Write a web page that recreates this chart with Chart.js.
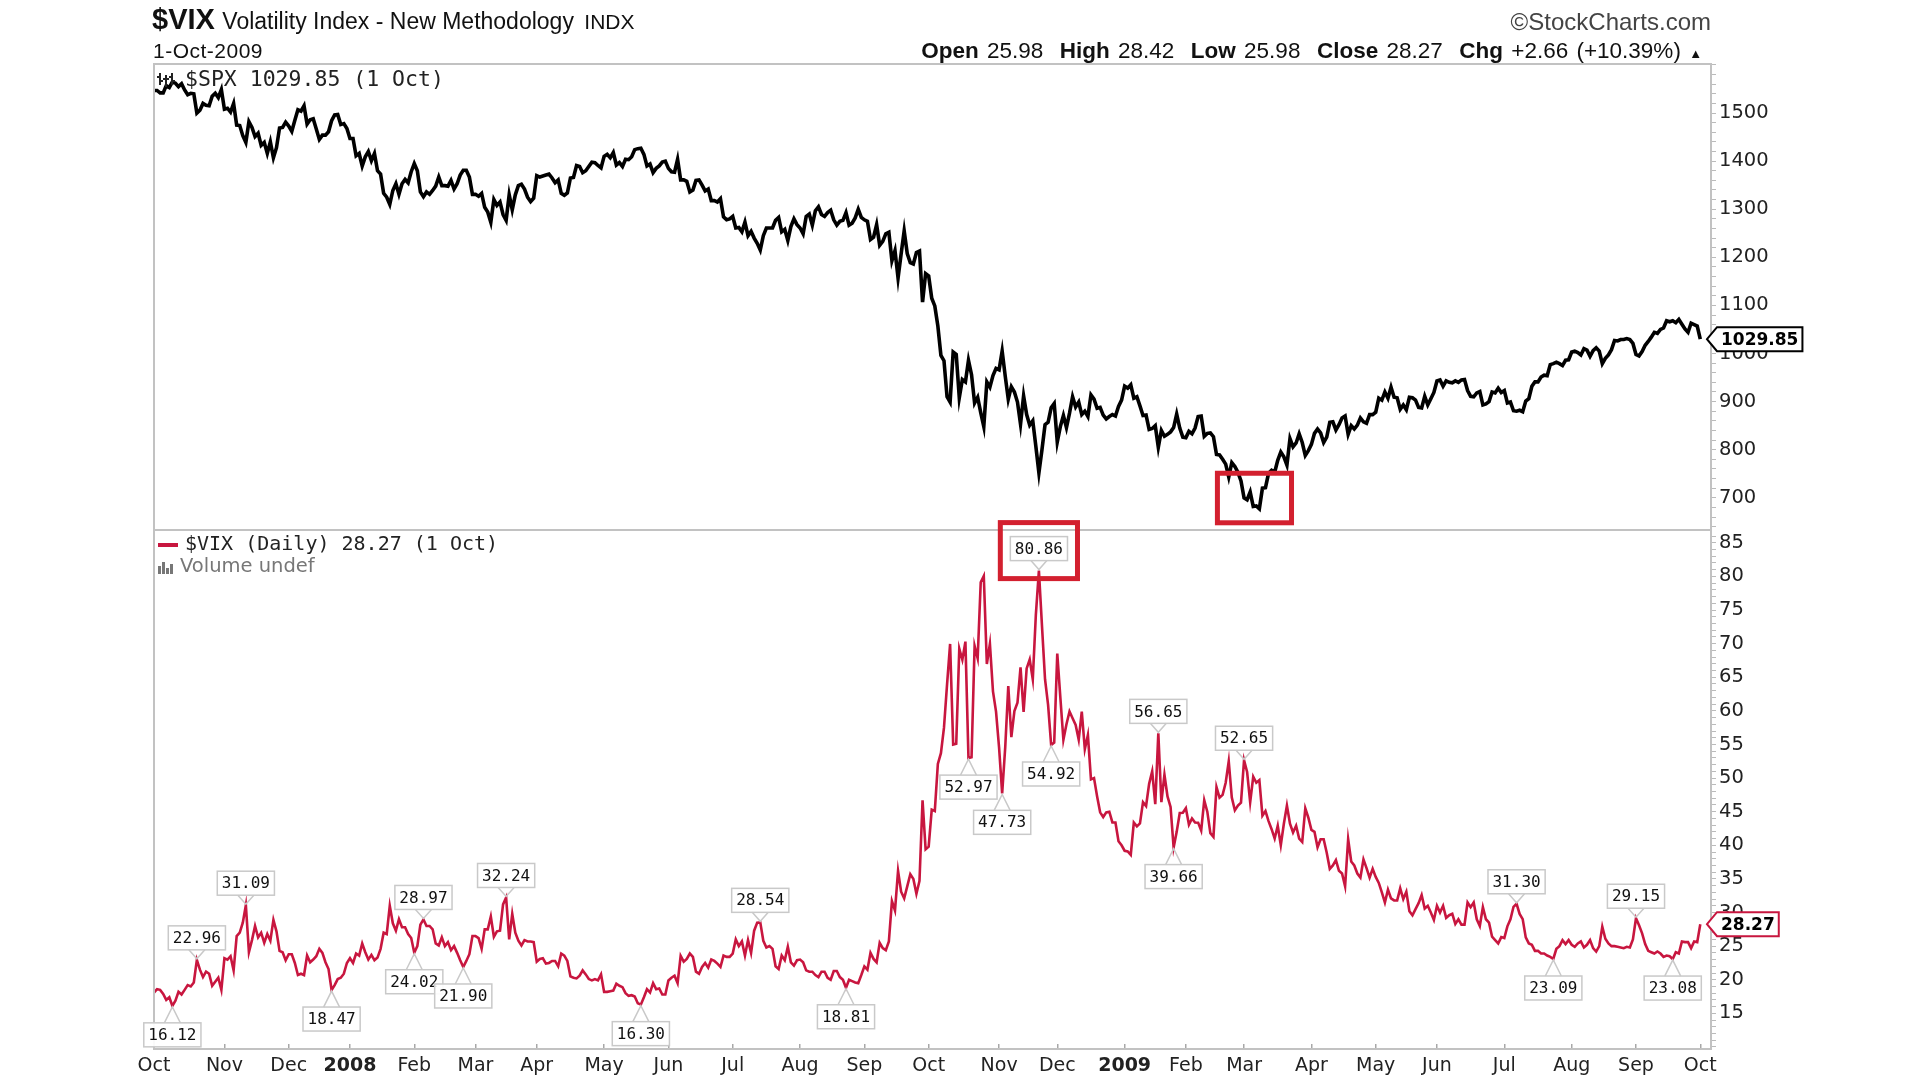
<!DOCTYPE html>
<html>
<head>
<meta charset="utf-8">
<script src="https://cdn.jsdelivr.net/npm/chart.js@4.4.1/dist/chart.umd.min.js"></script>
<style>
  body { margin: 0; background: #fff; }
  #wrap { position: relative; width: 1920px; height: 1080px; overflow: hidden; }
  #chart { position: absolute; left: 0; top: 0; }
  .hd { position: absolute; white-space: nowrap; color: #111; font-family: "Liberation Sans", Arial, sans-serif; }
  .hd b { font-weight: bold; }
</style>
</head>
<body>
<div id="wrap">
  <canvas id="chart" width="1920" height="1080"></canvas>
  <div class="hd" style="left:152px; top:3px; line-height:36px;">
    <span style="font: bold 29px 'Liberation Sans Narrow', 'Liberation Sans', sans-serif;">$VIX</span>
    <span style="font-size:23px; margin-left:3px;">Volatility Index - New Methodology</span>
    <span style="font-size:21px; margin-left:6px;">INDX</span>
  </div>
  <div class="hd" style="left:153px; top:38px; font-size:21px; line-height:26px; letter-spacing:0.5px;">1-Oct-2009</div>
  <div class="hd" style="right:209px; top:8px; font-size:24px; line-height:28px; color:#444;">&copy;StockCharts.com</div>
  <div class="hd" id="quote" style="right:218px; top:37px; font-size:22.5px; line-height:27px; word-spacing:2px;"></div>
</div>

<script>
// trading days since 1-Oct-2007 where each month starts, with the axis labels
const monthDays = [0, 23, 44, 64, 85, 105, 125, 147, 168, 189, 211, 232, 253,
  276, 295, 317, 337, 356, 378, 399, 419, 441, 463, 484, 505];
const monthLabels = ["Oct", "Nov", "Dec", "2008", "Feb", "Mar", "Apr", "May", "Jun",
  "Jul", "Aug", "Sep", "Oct", "Nov", "Dec", "2009", "Feb", "Mar", "Apr", "May",
  "Jun", "Jul", "Aug", "Sep", "Oct"];

// $SPX daily close, one row per month (Oct 2007 .. 1 Oct 2009)
const spxClose = [
  1547, 1547, 1542, 1542, 1557, 1553, 1565, 1562, 1555, 1561, 1548, 1538, 1541, 1540, 1500, 1506, 1520, 1516, 1515, 1535, 1541, 1532, 1549,
  1508, 1510, 1502, 1520, 1475, 1474, 1453, 1439, 1482, 1470, 1451, 1458, 1433, 1439, 1416, 1440, 1407, 1428, 1469, 1470, 1481,
  1473, 1462, 1485, 1507, 1504, 1515, 1477, 1486, 1488, 1467, 1445, 1454, 1454, 1461, 1484, 1496, 1497, 1476, 1478, 1468,
  1447, 1447, 1411, 1416, 1390, 1409, 1420, 1401, 1416, 1380, 1373, 1333, 1325, 1310, 1339, 1353, 1331, 1353, 1362, 1355, 1378,
  1395, 1380, 1336, 1326, 1336, 1331, 1339, 1348, 1367, 1349, 1349, 1348, 1360, 1342, 1353, 1371, 1381, 1381, 1367, 1331,
  1331, 1327, 1333, 1304, 1294, 1273, 1320, 1308, 1315, 1289, 1277, 1330, 1299, 1330, 1349, 1352, 1342, 1325, 1316, 1323,
  1370, 1367, 1369, 1371, 1373, 1365, 1355, 1361, 1333, 1329, 1334, 1365, 1366, 1391, 1389, 1376, 1380, 1389, 1398, 1397, 1391, 1386,
  1410, 1414, 1407, 1418, 1392, 1397, 1389, 1404, 1403, 1409, 1424, 1426, 1427, 1414, 1390, 1394, 1376, 1385, 1390, 1398, 1400,
  1385, 1378, 1377, 1404, 1361, 1361, 1358, 1336, 1340, 1360, 1361, 1350, 1338, 1342, 1318, 1318, 1315, 1322, 1284, 1278, 1280,
  1285, 1261, 1262, 1253, 1273, 1245, 1254, 1240, 1229, 1215, 1245, 1261, 1261, 1261, 1277, 1283, 1253, 1258, 1235, 1264, 1280, 1268,
  1261, 1249, 1285, 1290, 1267, 1297, 1305, 1289, 1285, 1293, 1298, 1278, 1267, 1275, 1277, 1293, 1267, 1271, 1282, 1300, 1283,
  1278, 1275, 1237, 1242, 1268, 1225, 1233, 1249, 1252, 1193, 1214, 1157, 1207, 1255, 1208, 1189, 1186, 1210, 1213, 1107, 1166,
  1161, 1115, 1099, 1057, 996, 985, 910, 899, 1003, 998, 908, 946, 941, 986, 956, 897, 909, 877, 848, 941, 930, 954, 969,
  966, 1005, 953, 905, 931, 920, 899, 853, 912, 873, 851, 860, 807, 752, 800, 852, 857, 887, 896,
  816, 848, 871, 846, 876, 910, 889, 899, 873, 880, 869, 914, 905, 886, 888, 872, 864, 869, 873, 870, 890, 903,
  932, 928, 935, 907, 910, 891, 871, 872, 842, 844, 850, 805, 840, 828, 832, 837, 846, 874, 845, 826,
  825, 838, 833, 845, 869, 870, 828, 834, 835, 827, 790, 789, 780, 770, 743, 773, 765, 753, 735,
  700, 696, 712, 682, 683, 677, 720, 721, 751, 757, 753, 778, 795, 785, 768, 823, 806, 814, 833, 815, 788, 798,
  811, 834, 843, 835, 815, 826, 857, 858, 841, 852, 866, 870, 832, 850, 843, 851, 866, 858, 855, 873, 873,
  878, 907, 903, 920, 907, 930, 909, 908, 884, 893, 883, 909, 908, 903, 888, 887, 911, 893, 906, 919,
  943, 945, 932, 943, 940, 939, 943, 940, 945, 946, 923, 911, 910, 918, 921, 893, 895, 900, 920, 918, 928, 919,
  923, 897, 899, 881, 880, 882, 879, 901, 906, 932, 941, 941, 951, 955, 954, 977, 979, 982, 979, 975, 986, 987,
  1003, 1005, 1002, 997, 1010, 1007, 994, 1006, 1012, 1005, 979, 990, 997, 1008, 1027, 1026, 1029, 1029, 1031, 1029, 1021,
  998, 995, 1004, 1017, 1025, 1034, 1044, 1042, 1050, 1053, 1068, 1066, 1068, 1064, 1071, 1061, 1051, 1044, 1063, 1060, 1057,
  1029.85
];

// $VIX daily close, one row per month
const vixClose = [
  18.1, 18.6, 18.5, 17.9, 17.0, 17.4, 16.12, 16.9, 18.2, 17.8, 18.5, 19.2, 19.0, 19.6, 22.96, 21.5, 20.4, 21.2, 20.9, 19.1, 19.7, 20.3, 18.5,
  23.2, 23.0, 23.5, 21.4, 26.5, 27.0, 28.5, 31.09, 24.1, 25.9, 28.0, 26.3, 27.0, 25.5, 26.8, 25.8, 28.9, 27.2, 24.3, 24.1, 22.9,
  23.8, 23.8, 22.5, 20.7, 20.9, 20.7, 23.6, 22.6, 23.0, 23.5, 24.6, 24.0, 22.6, 21.6, 18.47, 19.2, 20.1, 20.3, 20.9, 22.5,
  23.2, 22.5, 23.9, 23.6, 25.4, 24.1, 23.0, 23.7, 22.9, 23.3, 24.6, 27.0, 26.8, 31.0, 28.4, 27.3, 29.0, 27.8, 27.8, 26.8, 26.2,
  24.02, 25.0, 28.2, 28.97, 28.0, 28.0, 27.5, 25.4, 25.1, 26.3, 25.0, 25.6, 24.4, 25.0, 24.0, 22.9, 21.90, 22.8, 23.8, 26.5,
  26.5, 26.2, 24.6, 27.5, 27.5, 29.4, 26.4, 27.2, 27.3, 31.2, 32.24, 26.0, 29.8, 27.0, 25.8, 25.1, 25.9, 25.7, 25.7, 25.6,
  22.7, 23.1, 23.2, 22.4, 22.5, 22.8, 22.8, 22.0, 23.9, 23.6, 22.8, 20.5, 20.3, 20.2, 20.6, 21.4, 20.8, 20.1, 19.9, 20.1, 19.9, 20.8,
  18.2, 18.2, 18.3, 18.4, 19.4, 19.1, 18.9, 18.0, 17.6, 17.7, 17.5, 16.5, 16.30, 17.4, 18.6, 18.1, 19.5, 18.6, 18.7, 17.8, 17.8,
  19.9, 20.3, 20.6, 19.5, 23.56, 22.7, 23.1, 23.9, 23.4, 21.2, 20.9, 21.9, 22.5, 21.8, 23.0, 22.8, 22.4, 21.9, 23.6, 23.4, 23.4,
  23.9, 26.0, 25.0, 25.7, 23.6, 25.9, 24.0, 27.3, 28.5, 28.54, 25.8, 24.8, 25.0, 24.6, 22.0, 21.6, 23.6, 22.9, 24.9, 22.6, 22.1, 22.9,
  23.0, 22.6, 21.4, 21.2, 21.2, 20.7, 20.4, 21.2, 21.2, 20.3, 20.0, 21.3, 21.3, 20.4, 20.0, 18.81, 20.0, 19.8, 19.6, 19.5, 20.7,
  21.99, 21.5, 24.0, 23.1, 22.6, 25.5, 24.7, 24.4, 25.7, 31.7, 30.3, 36.2, 33.1, 32.1, 33.9, 35.7, 35.0, 32.8, 34.7, 46.7, 39.4,
  39.8, 45.3, 45.1, 52.1, 53.7, 57.5, 63.9, 69.95, 54.99, 55.1, 69.25, 67.6, 70.3, 52.97, 53.1, 69.65, 67.8, 79.13, 80.06, 66.96, 69.96, 62.9, 59.89,
  54.5, 47.73, 54.56, 63.68, 56.1, 59.98, 61.2, 66.46, 59.83, 66.31, 67.64, 64.7, 74.26, 80.86, 72.67, 64.7, 60.9, 54.92, 55.28,
  68.51, 62.0, 55.7, 58.0, 59.9, 58.9, 57.9, 55.7, 59.9, 54.3, 56.4, 49.8, 50.0, 47.3, 44.9, 44.2, 44.9, 45.0, 43.4, 43.4, 40.6, 40.0,
  39.19, 39.08, 38.56, 43.39, 42.82, 43.27, 46.42, 45.84, 49.14, 51.0, 46.11, 56.65, 46.42, 50.5, 47.27, 45.7, 39.66, 42.0, 44.8, 44.84,
  45.52, 43.06, 44.0, 43.4, 43.37, 42.2, 46.7, 45.0, 41.8, 41.25, 48.66, 47.1, 47.5, 49.3, 52.5, 47.1, 45.2, 45.9, 46.35,
  52.65, 50.9, 46.4, 50.2, 49.3, 49.7, 44.4, 45.1, 43.6, 42.4, 41.0, 42.9, 40.0, 43.2, 45.9, 43.2, 41.9, 42.9, 41.0, 40.5, 45.5, 44.1,
  42.3, 42.0, 39.7, 40.9, 40.9, 38.9, 36.5, 37.0, 37.8, 36.2, 35.8, 33.9, 40.9, 37.6, 37.0, 35.8, 35.2, 37.9, 36.6, 35.2, 36.5,
  35.3, 34.4, 33.0, 31.5, 33.4, 32.1, 31.8, 31.8, 33.6, 32.0, 33.1, 30.2, 29.6, 30.5, 31.4, 32.6, 30.6, 31.0, 30.0, 28.9,
  31.0, 30.0, 31.0, 29.2, 29.6, 29.8, 28.3, 29.0, 28.2, 28.2, 31.5, 30.8, 31.5, 29.0, 27.99, 30.8, 29.0, 28.5, 26.4, 25.9, 25.4, 26.35,
  26.2, 27.95, 29.0, 30.85, 31.30, 29.8, 29.02, 26.3, 25.4, 25.2, 24.3, 24.3, 23.9, 23.9, 23.6, 23.4, 23.09, 24.6, 25.0, 25.9, 25.3, 25.9,
  25.2, 24.9, 25.4, 25.7, 24.8, 25.2, 25.9, 24.7, 24.2, 25.0, 27.9, 26.1, 25.4, 25.0, 25.0, 24.9, 24.8, 24.7, 24.9, 24.8, 26.0,
  29.15, 28.1, 26.9, 25.3, 24.3, 24.1, 23.9, 24.2, 23.9, 23.4, 23.6, 23.5, 23.08, 24.1, 23.9, 25.7, 25.6, 25.6, 24.7, 25.7, 25.6,
  28.27
];

// swing points labelled on the $VIX line (trading day, label above/below)
const markDays = [6, 14, 30, 58, 85, 88, 101, 115, 159, 198, 226, 266, 277, 289, 293, 328, 333, 356, 445, 457, 484, 496];
const markSide = ["below", "above", "above", "below", "below", "above", "below", "above", "below", "above", "below",
  "below", "below", "above", "below", "above", "below", "above", "above", "below", "above", "below"];

// red highlight boxes: the $SPX low (days / index values) and the $VIX top
const lowBox = { from: 347.3, to: 371.5, top: 751, bottom: 648 };
const peakDay = 289;

const quote = { open: 25.98, high: 28.42, low: 25.98, close: 28.27, chg: 2.66, pct: 10.39 };

const RED = "#c8163f";
const BOX_RED = "#d3202f";

document.getElementById("quote").innerHTML =
  `<b>Open</b> ${quote.open.toFixed(2)}&nbsp; <b>High</b> ${quote.high.toFixed(2)}&nbsp; <b>Low</b> ${quote.low.toFixed(2)}&nbsp; ` +
  `<b>Close</b> ${quote.close.toFixed(2)}&nbsp; <b>Chg</b> +${quote.chg.toFixed(2)} (+${quote.pct.toFixed(2)}%) <span style="font-size:13px;">&#9650;</span>`;

/**
 * draws the little callout box used for the swing labels
 */
function drawCallout(ctx, px, py, text, side) {
  ctx.font = "16px 'DejaVu Sans Mono', monospace";
  const w = ctx.measureText(text).width + 9;
  const h = 24;
  const bx = px - w / 2;
  const by = side === "above" ? py - 10 - h : py + 17;
  const edge = side === "above" ? by + h : by;
  const tip = side === "above" ? py - 1 : py + 1;

  ctx.fillStyle = "rgba(255,255,255,0.92)";
  ctx.fillRect(bx, by, w, h);
  ctx.strokeStyle = "#c9c9c9";
  ctx.lineWidth = 1.5;
  ctx.strokeRect(bx, by, w, h);
  // pointer
  ctx.beginPath();
  ctx.moveTo(px - 8, edge);
  ctx.lineTo(px, tip);
  ctx.lineTo(px + 8, edge);
  ctx.stroke();

  ctx.fillStyle = "#111";
  ctx.textAlign = "center";
  ctx.textBaseline = "middle";
  ctx.fillText(text, px, by + h / 2 + 1);
  return { x: bx, y: by, w: w, h: h };
}

/**
 * value tag on the right axis, with an arrow pointing at the last value
 */
function drawTag(ctx, left, py, text, border) {
  ctx.font = "bold 17px 'DejaVu Sans', sans-serif";
  const w = ctx.measureText(text).width + 8;
  const h = 24;
  const x0 = left + 6;
  ctx.beginPath();
  ctx.moveTo(left - 4, py);
  ctx.lineTo(x0, py - h / 2);
  ctx.lineTo(x0 + w, py - h / 2);
  ctx.lineTo(x0 + w, py + h / 2);
  ctx.lineTo(x0, py + h / 2);
  ctx.closePath();
  ctx.fillStyle = "#fff";
  ctx.fill();
  ctx.strokeStyle = border;
  ctx.lineWidth = 2;
  ctx.stroke();
  ctx.fillStyle = "#000";
  ctx.textAlign = "left";
  ctx.textBaseline = "middle";
  ctx.fillText(text, x0 + 4, py + 1);
}

const decorPlugin = {
  id: "decor",
  afterDraw(chart) {
    const { ctx, chartArea: a } = chart;
    const x = chart.scales.x;
    const ys = chart.scales.ySpx;
    const yv = chart.scales.yVix;
    ctx.save();

    // panel frames
    ctx.strokeStyle = "#c2c2c2";
    ctx.lineWidth = 2;
    ctx.strokeRect(a.left, a.top, a.right - a.left, a.bottom - a.top);
    ctx.beginPath();
    ctx.moveTo(a.left, ys.bottom);
    ctx.lineTo(a.right, ys.bottom);
    ctx.stroke();

    // panel legends
    const lastSpx = spxClose[spxClose.length - 1];
    const lastVix = vixClose[vixClose.length - 1];
    ctx.fillStyle = "#222";
    [0, 6, 12].forEach((dx, i) => {
      ctx.fillRect(a.left + 5 + dx, ys.top + 9 + (i % 2) * 2, 2, 12);
      ctx.fillRect(a.left + 3 + dx, ys.top + 12 + (i % 2) * 2, 2, 2);
      ctx.fillRect(a.left + 7 + dx, ys.top + 16 - (i % 2) * 2, 2, 2);
    });
    ctx.font = "21.5px 'DejaVu Sans Mono', monospace";
    ctx.textAlign = "left";
    ctx.textBaseline = "middle";
    ctx.fillText(`$SPX ${lastSpx.toFixed(2)} (1 Oct)`, a.left + 31, ys.top + 16);

    ctx.fillStyle = RED;
    ctx.fillRect(a.left + 4, yv.top + 13, 20, 4);
    ctx.fillStyle = "#222";
    ctx.font = "20px 'DejaVu Sans Mono', monospace";
    ctx.fillText(`$VIX (Daily) ${lastVix.toFixed(2)} (1 Oct)`, a.left + 31, yv.top + 15);

    ctx.fillStyle = "#777";
    [[0, 8], [4, 12], [8, 6], [12, 10]].forEach(([dx, hgt]) => {
      ctx.fillRect(a.left + 4 + dx, yv.top + 44 - hgt, 3, hgt);
    });
    ctx.font = "19.5px 'DejaVu Sans', sans-serif";
    ctx.fillText("Volume undef", a.left + 26, yv.top + 37);

    // swing labels on the VIX line
    let peakLabel = null;
    markDays.forEach((d, i) => {
      const px = x.getPixelForValue(d);
      const py = yv.getPixelForValue(vixClose[d]);
      const box = drawCallout(ctx, px, py, vixClose[d].toFixed(2), markSide[i]);
      if (d === peakDay) peakLabel = { px, py, box };
    });

    // red highlight boxes
    ctx.strokeStyle = BOX_RED;
    ctx.lineWidth = 5;
    if (peakLabel) {
      const b = peakLabel.box;
      ctx.strokeRect(b.x - 10, b.y - 14, b.w + 20, peakLabel.py + 8 - (b.y - 14));
    }
    const lx0 = x.getPixelForValue(lowBox.from);
    const lx1 = x.getPixelForValue(lowBox.to);
    const ly0 = ys.getPixelForValue(lowBox.top);
    const ly1 = ys.getPixelForValue(lowBox.bottom);
    ctx.strokeRect(lx0, ly0, lx1 - lx0, ly1 - ly0);

    // last value tags
    drawTag(ctx, a.right, ys.getPixelForValue(lastSpx), lastSpx.toFixed(2), "#000");
    drawTag(ctx, a.right, yv.getPixelForValue(lastVix), lastVix.toFixed(2), RED);

    ctx.restore();
  }
};

function stepTicks(from, to, step) {
  const out = [];
  for (let v = from; v <= to + 1e-9; v += step) out.push({ value: v });
  return out;
}

const axisFont = { family: "'DejaVu Sans', sans-serif", size: 19.5 };

const chart = new Chart(document.getElementById("chart"), {
  type: "line",
  data: {
    datasets: [
      {
        label: "$SPX",
        data: spxClose.map((v, i) => ({ x: i, y: v })),
        yAxisID: "ySpx",
        borderColor: "#000",
        borderWidth: 3.6,
        pointRadius: 0,
        tension: 0,
      },
      {
        label: "$VIX",
        data: vixClose.map((v, i) => ({ x: i, y: v })),
        yAxisID: "yVix",
        borderColor: RED,
        borderWidth: 2.6,
        pointRadius: 0,
        tension: 0,
      },
    ],
  },
  options: {
    responsive: false,
    animation: false,
    devicePixelRatio: 1,
    layout: { padding: { left: 154, top: 64, right: 149, bottom: 0 } },
    plugins: { legend: { display: false }, tooltip: { enabled: false } },
    scales: {
      x: {
        type: "linear",
        min: 0,
        max: 508.5,
        afterBuildTicks: (s) => { s.ticks = monthDays.map((v) => ({ value: v })); },
        afterFit: (s) => { s.height = 31; },
        border: { display: false },
        grid: { drawOnChartArea: false, drawTicks: true, tickLength: -5, color: "#a8a8a8", lineWidth: 1.5 },
        ticks: {
          autoSkip: false,
          maxRotation: 0,
          padding: 11,
          color: "#222",
          font: (c) => ({
            family: "'DejaVu Sans', sans-serif",
            size: 19,
            weight: /^\d{4}$/.test(monthLabels[c.index]) ? "bold" : "normal",
          }),
          callback: (v, i) => monthLabels[i],
        },
      },
      ySpx: {
        type: "linear",
        position: "right",
        stack: "panels",
        stackWeight: 466,
        min: 633,
        max: 1602,
        afterBuildTicks: (s) => { s.ticks = stepTicks(640, 1600, 20); },
        afterFit: (s) => { s.width = 60; },
        border: { color: "#bdbdbd", width: 2 },
        grid: { drawOnChartArea: false, tickLength: 5, color: "#bbb" },
        ticks: {
          autoSkip: false,
          padding: 3,
          color: "#222",
          font: axisFont,
          callback: (v) => (v % 100 === 0 && v <= 1500 ? String(v) : ""),
        },
      },
      yVix: {
        type: "linear",
        position: "right",
        stack: "panels",
        stackWeight: 519,
        min: 9.7,
        max: 86.9,
        afterBuildTicks: (s) => { s.ticks = stepTicks(10, 86, 1); },
        afterFit: (s) => { s.width = 60; },
        border: { color: "#bdbdbd", width: 2 },
        grid: { drawOnChartArea: false, tickLength: 5, color: "#bbb" },
        ticks: {
          autoSkip: false,
          padding: 3,
          color: "#222",
          font: axisFont,
          callback: (v) => (v % 5 === 0 && v >= 15 ? String(v) : ""),
        },
      },
    },
  },
  plugins: [decorPlugin],
});
</script>
</body>
</html>
